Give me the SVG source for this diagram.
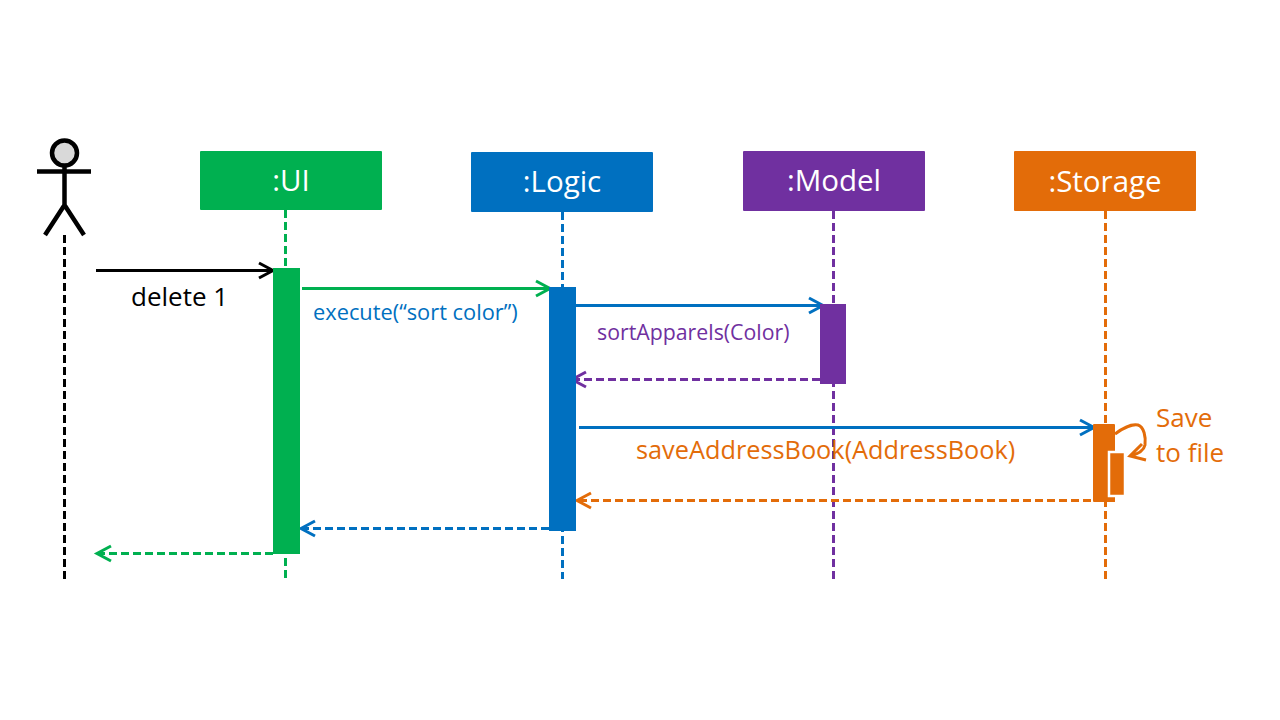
<svg xmlns="http://www.w3.org/2000/svg" width="1280" height="720" viewBox="0 0 1280 720">
<style>
text{font-family:"Open Sans","Liberation Sans",sans-serif}
.h{font-size:29.500px;fill:#fff;text-anchor:middle}
.l{fill:none;stroke-width:3}
.d{stroke-dasharray:8 4}
.g{stroke:#00B050}.b{stroke:#0070C0}.p{stroke:#7030A0}.o{stroke:#E36C09}.k{stroke:#000}
</style>
<rect width="1280" height="720" fill="#fff"/>
<g id="actor" fill="none" stroke="#000" stroke-width="4.500"><circle cx="64.500" cy="153" r="12.500" fill="#D9D9D9"/><path d="M64.500 166V205M37 171.500H91M64.500 205L45 235M64.500 205L84 235"/></g>
<g id="connectors">
<path class="l k d" d="M64.500 235V579"/><path class="l g d" d="M285.500 210V579"/><path class="l b d" d="M562.500 212V579"/><path class="l p d" d="M833.500 211V579"/><path class="l o d" d="M1105.500 211V579"/>
<path class="l k" d="M96 270.500H272M259 263L273 270.500L259 278"/>
<path class="l g" d="M302 288.500H549M536 281L550 288.500L536 296"/>
<path class="l b" d="M576 305.500H822M809 298L823 305.500L809 313"/>
<path class="l p d" d="M820 379.500H573"/><path class="l p" d="M586 372L572 379.500L586 387"/>
<path class="l b" d="M579 427.500H1093M1080 420L1094 427.500L1080 435"/>
<path class="l o d" d="M1115 500.500H578"/><path class="l o" d="M591 493L577 500.500L591 508"/>
<path class="l b d" d="M549 528.500H302"/><path class="l b" d="M315 521L301 528.500L315 536"/>
<path class="l g d" d="M273 553.500H98"/><path class="l g" d="M111 546L97 553.500L111 561"/>
<path class="l o" d="M1115 434C1124 427 1133 424 1138 425C1144 427 1146 437 1145 445C1144 450 1138 454 1130 456M1142 444L1130 456L1146 460"/>
</g>
<g id="ui"><rect x="200" y="151" width="182" height="59" rx="1" fill="#00B050"/><text class="h" x="291" y="191">:UI</text><rect x="273" y="268" width="27" height="286" fill="#00B050"/></g>
<g id="logic"><rect x="471" y="152" width="182" height="60" rx="1" fill="#0070C0"/><text class="h" x="562" y="192">:Logic</text><rect x="549" y="287" width="27" height="244" fill="#0070C0"/></g>
<g id="model"><rect x="743" y="151" width="182" height="60" rx="1" fill="#7030A0"/><text class="h" x="834" y="191">:Model</text><rect x="820" y="304" width="26" height="80" fill="#7030A0"/></g>
<g id="storage"><rect x="1014" y="151" width="182" height="60" rx="1" fill="#E36C09"/><text class="h" x="1105" y="192">:Storage</text><rect x="1093" y="424" width="22" height="78" rx="1" fill="#E36C09"/><rect x="1109" y="452" width="16" height="44" fill="#E36C09" stroke="#fff" stroke-width="2.500"/></g>
<g id="labels">
<text x="131" y="306" font-size="26" fill="#000">delete 1</text>
<text x="313" y="320" font-size="21.800" fill="#0070C0">execute(“sort color”)</text>
<text x="597" y="340" font-size="21.300" fill="#7030A0">sortApparels(Color)</text>
<text x="636" y="459" font-size="25.300" fill="#E36C09">saveAddressBook(AddressBook)</text>
<text x="1156" y="427" font-size="26" fill="#E36C09">Save</text>
<text x="1156" y="462" font-size="26" fill="#E36C09">to file</text>
</g>
</svg>
